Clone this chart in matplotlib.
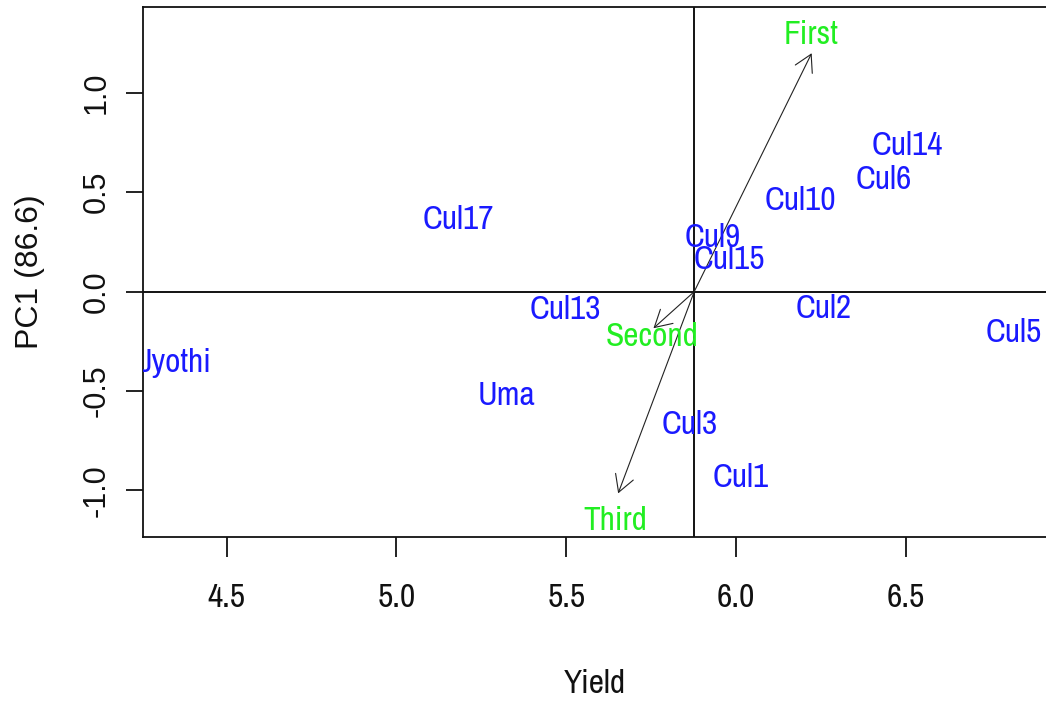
import matplotlib

matplotlib.use("Agg")
import matplotlib.pyplot as plt
from matplotlib import font_manager
from matplotlib.font_manager import FontProperties
from matplotlib.textpath import TextPath

# Genotype scores: mean yield vs first principal component
cultivars = ["Cul17", "Cul14", "Cul6", "Cul10", "Cul9", "Cul15", "Cul2",
             "Cul13", "Cul5", "Jyothi", "Uma", "Cul3", "Cul1"]
yield_vals = [5.181, 6.505, 6.436, 6.189, 5.931, 5.982, 6.257,
              5.499, 6.819, 4.349, 5.325, 5.865, 6.014]
pc1_vals = [0.374, 0.748, 0.577, 0.470, 0.285, 0.172, -0.071,
            -0.077, -0.193, -0.346, -0.511, -0.654, -0.923]

# Environment vectors (arrow tips and label positions)
envs = ["First", "Second", "Third"]
env_tip_x = [6.223, 5.757, 5.653]
env_tip_y = [1.200, -0.184, -1.015]
env_lab_x = [6.220, 5.754, 5.646]
env_lab_y = [1.309, -0.213, -1.140]

mean_yield = 5.877

xticks = [4.5, 5.0, 5.5, 6.0, 6.5]
yticks = [-1.0, -0.5, 0.0, 0.5, 1.0]


def pick_narrow_font():
    """Prefer a narrow/condensed sans regular face, else Liberation Sans."""
    fonts = font_manager.fontManager.ttflist
    for f in fonts:
        if ("Narrow" in f.name or "Condensed" in f.name) and f.style == "normal" and f.weight == 400:
            return f.fname
    for f in fonts:
        if f.stretch in ("condensed", "semi-condensed") and f.style == "normal" and f.weight == 400:
            return f.fname
    return font_manager.findfont(FontProperties(family="Liberation Sans"))


def fitted(fname, sample, width_pt, max_size):
    """Font at the size that makes `sample` about width_pt wide."""
    prop = FontProperties(fname=fname)
    w = TextPath((0, 0), sample, size=10, prop=prop).get_extents().width
    size = min(10 * width_pt / w, max_size)
    return FontProperties(fname=fname, size=size)


narrow_file = pick_narrow_font()
regular_file = font_manager.findfont(FontProperties(family="Liberation Sans"))

px = 72 / 100
label_font = fitted(narrow_file, "Cul17", 70.7 * px, 24)
tick_font = fitted(narrow_file, "5.0", 37 * px, 24)
ytick_font = FontProperties(fname=regular_file, size=22)
ylab_font = FontProperties(fname=regular_file, size=23)

fig = plt.figure(figsize=(10.46, 7.05), dpi=100)
ax = fig.add_axes([143.3 / 1046, 168.3 / 705, (1047 - 143.3) / 1046, 529.4 / 705])
ax.set_xlim(4.2543, 6.9162)
ax.set_ylim(-1.233, 1.431)

for s in ax.spines.values():
    s.set_linewidth(1.3)
    s.set_color("#111111")

ax.axhline(0, color="black", lw=1.3, zorder=1)
ax.axvline(mean_yield, color="black", lw=1.3, zorder=1)

for name, x, y in zip(cultivars, yield_vals, pc1_vals):
    ax.text(x, y, name, color="#1a1aff", fontproperties=label_font,
            ha="center", va="center_baseline", clip_on=True, zorder=3)

for name, tx, ty, lx, ly in zip(envs, env_tip_x, env_tip_y, env_lab_x, env_lab_y):
    ax.annotate("", xy=(tx, ty), xytext=(mean_yield, 0),
                arrowprops=dict(arrowstyle="->,head_length=0.6,head_width=0.34",
                                mutation_scale=20, lw=0.8, color="#222222",
                                shrinkA=0, shrinkB=0), zorder=2)
    ax.text(lx, ly, name, color="#22ee22", fontproperties=label_font,
            ha="center", va="center_baseline", clip_on=True, zorder=3)

ax.set_xticks(xticks, labels=[f"{v:.1f}" for v in xticks], fontproperties=tick_font)
ax.set_yticks(yticks, labels=[f"{v:.1f}" for v in yticks], fontproperties=ytick_font,
              rotation=90, va="center")
ax.tick_params(axis="x", direction="out", length=14.5, width=1.3, pad=19, colors="#111111")
ax.tick_params(axis="y", direction="out", length=12, width=1.3, pad=11, colors="#111111")

ax.set_xlabel("Yield", fontproperties=tick_font, color="#111111")
ax.xaxis.set_label_coords(0.5, -0.250)
ax.set_ylabel("PC1 (86.6)", fontproperties=ylab_font, color="#111111")
ax.yaxis.set_label_coords(-0.1089, 0.5)

fig.savefig("out.png", dpi=100)
